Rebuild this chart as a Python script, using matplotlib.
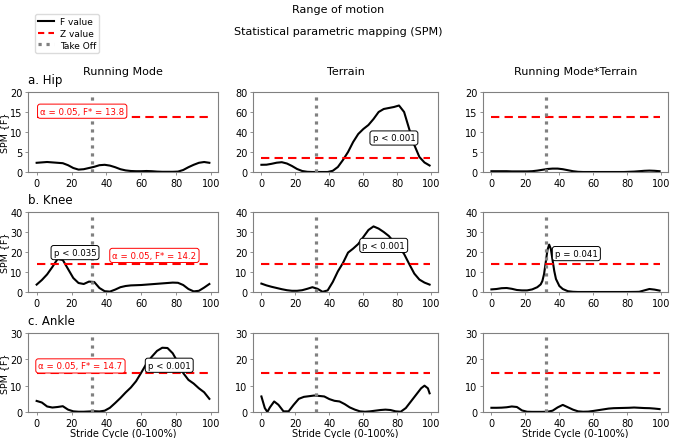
import matplotlib
matplotlib.use("Agg")
import matplotlib.pyplot as plt
from matplotlib.lines import Line2D

# stride cycle sample points (%)
x_pct = list(range(0, 100, 3))

hip_rm = [2.3, 2.4, 2.5, 2.4, 2.3, 2.2, 1.7, 1.0, 0.6, 0.7, 1.0, 1.3, 1.7, 1.8, 1.6, 1.2, 0.7,
          0.4, 0.25, 0.2, 0.2, 0.25, 0.2, 0.1, 0.05, 0.05, 0.05, 0.1, 0.5, 1.2, 1.8, 2.3, 2.5, 2.3]
hip_ter = [7.2, 7.3, 8.2, 9.3, 9.8, 8.5, 6.0, 3.0, 1.0, 0.2, 0.0, 0.0, 0.0, 0.0, 1.2, 5.0, 12,
           20, 30, 38, 43, 47, 53, 60, 63, 64, 65, 66.5, 60, 43, 27, 15, 9.5, 6.5]
hip_rmt = [0.2, 0.2, 0.2, 0.2, 0.15, 0.15, 0.15, 0.15, 0.2, 0.35, 0.55, 0.75, 0.85, 0.85, 0.7,
           0.45, 0.2, 0.05, 0.0, 0.0, 0.0, 0.0, 0.0, 0.0, 0.0, 0.0, 0.0, 0.05, 0.1, 0.2, 0.3,
           0.35, 0.3, 0.2]

knee_rm = [3.7, 6.0, 8.8, 12.5, 16.5, 16.0, 11.5, 7.0, 4.5, 4.0, 5.2, 5.0, 2.0, 0.4, 0.2, 1.2,
           2.4, 3.0, 3.3, 3.4, 3.5, 3.7, 3.9, 4.1, 4.3, 4.5, 4.7, 4.6, 3.5, 1.5, 0.3, 0.6, 2.2, 4.0]
knee_ter = [4.2, 3.3, 2.6, 2.0, 1.4, 0.9, 0.6, 0.6, 0.9, 1.6, 2.4, 1.6, 0.1, 0.8, 5.0, 10.3,
            14.5, 19.7, 21.7, 24, 27.5, 31, 32.8, 31.7, 30, 28, 25, 22.5, 19, 14, 9.2, 6.2, 4.7, 3.7]
knee_rmt_x = [0, 3, 6, 9, 12, 15, 18, 21, 24, 27, 29, 30, 31, 32, 33, 34, 35, 36, 37, 38, 40, 42,
              45, 48, 51, 55, 60, 70, 80, 85, 87, 90, 93, 96, 99]
knee_rmt = [1.3, 1.5, 1.9, 2.0, 1.6, 1.0, 0.8, 0.8, 1.3, 2.4, 3.8, 5.5, 9, 15, 21, 23.7, 21.5, 16,
            10.5, 6.5, 3.0, 1.5, 0.4, 0.1, 0.0, 0, 0, 0, 0, 0.05, 0.1, 0.8, 1.5, 1.2, 0.7]

ankle_rm = [4.2, 3.6, 2.1, 1.7, 1.9, 2.2, 0.9, 0.25, 0.1, 0.1, 0.2, 0.3, 0.2, 0.5, 1.6, 3.4, 5.3,
            7.4, 9.3, 11.7, 15.0, 18.4, 21.0, 23.2, 24.4, 24.3, 22.3, 18.8, 14.8, 12.2, 10.8, 9.0,
            7.5, 5.0]
ankle_ter_x = [0, 2, 3.5, 5, 7.5, 10, 13, 16, 19, 22, 25, 28, 31, 34, 37, 40, 43, 46, 49, 52, 55,
               58, 61, 64, 67, 70, 73, 76, 79, 82, 85, 88, 91, 94, 96, 98, 99]
ankle_ter = [5.9, 1.5, 0, 1.75, 4, 2.75, 0.25, 0.25, 2.75, 5, 5.75, 6, 6.25, 6.1, 5.9, 4.9, 4.25,
             4, 3, 1.75, 0.9, 0.25, 0.1, 0.25, 0.5, 0.75, 0.9, 0.75, 0.25, 0.1, 1.5, 4, 6.5, 9,
             10, 9, 7.1]
ankle_rmt = [1.6, 1.6, 1.65, 1.8, 2.1, 1.9, 0.6, 0.1, 0.05, 0.05, 0.05, 0.1, 0.5, 1.75, 2.7, 1.8,
             0.9, 0.25, 0.1, 0.15, 0.4, 0.7, 1.0, 1.3, 1.45, 1.5, 1.55, 1.6, 1.7, 1.6, 1.5, 1.45,
             1.3, 1.1]

col_titles = ["Running Mode", "Terrain", "Running Mode*Terrain"]
row_titles = ["a. Hip", "b. Knee", "c. Ankle"]
row_ymax = [[20, 80, 20], [40, 40, 40], [30, 30, 30]]
row_ystep = [[5, 20, 5], [10, 10, 10], [10, 10, 10]]
thresholds = [13.8, 14.2, 14.7]
take_off = 32

curves = [
    [(x_pct, hip_rm), (x_pct, hip_ter), (x_pct, hip_rmt)],
    [(x_pct, knee_rm), (x_pct, knee_ter), (knee_rmt_x, knee_rmt)],
    [(x_pct, ankle_rm), (ankle_ter_x, ankle_ter), (x_pct, ankle_rmt)],
]

# p-value boxes: (row, col, x, y, text)
p_labels = [
    (0, 1, 78, 34, "p < 0.001"),
    (1, 0, 22, 19.7, "p < 0.035"),
    (1, 1, 72, 23.3, "p < 0.001"),
    (1, 2, 50, 19.2, "p = 0.041"),
    (2, 0, 76, 17.75, "p < 0.001"),
]
# critical threshold boxes: (row, x, y, ha)
alpha_labels = [
    (0, 2, 15.2, "left"),
    (1, 67.5, 18.3, "center"),
    (2, 1, 17.5, "left"),
]

W, H = 677, 439
fig = plt.figure(figsize=(W / 100, H / 100), dpi=100)

col_px = [(28, 218), (253, 438), (483, 668)]
row_px = [(93, 173), (213, 293), (334, 413)]

axes = [[None] * 3 for _ in range(3)]
for r in range(3):
    for c in range(3):
        x0, x1 = col_px[c]
        y0, y1 = row_px[r]
        ax = fig.add_axes([x0 / W, 1 - y1 / H, (x1 - x0) / W, (y1 - y0) / H])
        axes[r][c] = ax
        xs, ys = curves[r][c]
        ax.plot(xs, ys, color="black", lw=1.5)
        ax.plot([0, 99], [thresholds[r]] * 2, color="red", ls=(0, (4, 2.5)), lw=1.5)
        ax.axvline(take_off, color="gray", ls=(0, (1, 1.5)), lw=2.3)
        ax.set_ylim(0, row_ymax[r][c])
        ax.set_yticks(range(0, row_ymax[r][c] + 1, row_ystep[r][c]))
        ax.set_xlim(-4.95, 103.95)
        ax.set_xticks([0, 20, 40, 60, 80, 100])
        ax.tick_params(labelsize=7, length=2.5, width=0.6, color="gray", pad=1.5)
        for s in ax.spines.values():
            s.set_color("gray")
            s.set_linewidth(0.8)
        if c == 0:
            ax.set_ylabel("SPM {F}", fontsize=6.8, labelpad=1)
            ax.annotate(row_titles[r], xy=(0, 1), xycoords="axes fraction",
                        xytext=(0, 4), textcoords="offset points",
                        ha="left", va="bottom", fontsize=8.5)
        if r == 0:
            ax.set_title(col_titles[c], fontsize=8, pad=13)
        if r == 2:
            ax.set_xlabel("Stride Cycle (0-100%)", fontsize=7, labelpad=0)

for r, c, x, y, txt in p_labels:
    axes[r][c].text(x, y, txt, fontsize=6.2, ha="center", va="center", zorder=5,
                    bbox=dict(boxstyle="round,pad=0.3", fc="white", ec="black", lw=0.7))

for r, x, y, ha in alpha_labels:
    axes[r][0].text(x, y, "α = 0.05, F* = %.1f" % thresholds[r], fontsize=6.2, color="red",
                    ha=ha, va="center", zorder=5,
                    bbox=dict(boxstyle="round,pad=0.3", fc="white", ec="red", lw=0.7))

fig.text(0.5, 1 - 10 / H, "Range of motion", ha="center", va="center", fontsize=8)
fig.text(0.5, 1 - 32 / H, "Statistical parametric mapping (SPM)", ha="center",
         va="center", fontsize=8)

handles = [
    Line2D([], [], color="black", lw=1.5),
    Line2D([], [], color="red", ls=(0, (3, 2)), lw=1.5),
    Line2D([], [], color="gray", ls=(0, (1, 1.5)), lw=2.3),
]
fig.legend(handles, ["F value", "Z value", "Take Off"], loc="upper left",
           bbox_to_anchor=(35 / W, 1 - 15 / H), borderaxespad=0, fontsize=6.5,
           handlelength=1.7, borderpad=0.35, labelspacing=0.3, handletextpad=0.7,
           edgecolor="lightgray")

fig.savefig("out.png", dpi=100)
